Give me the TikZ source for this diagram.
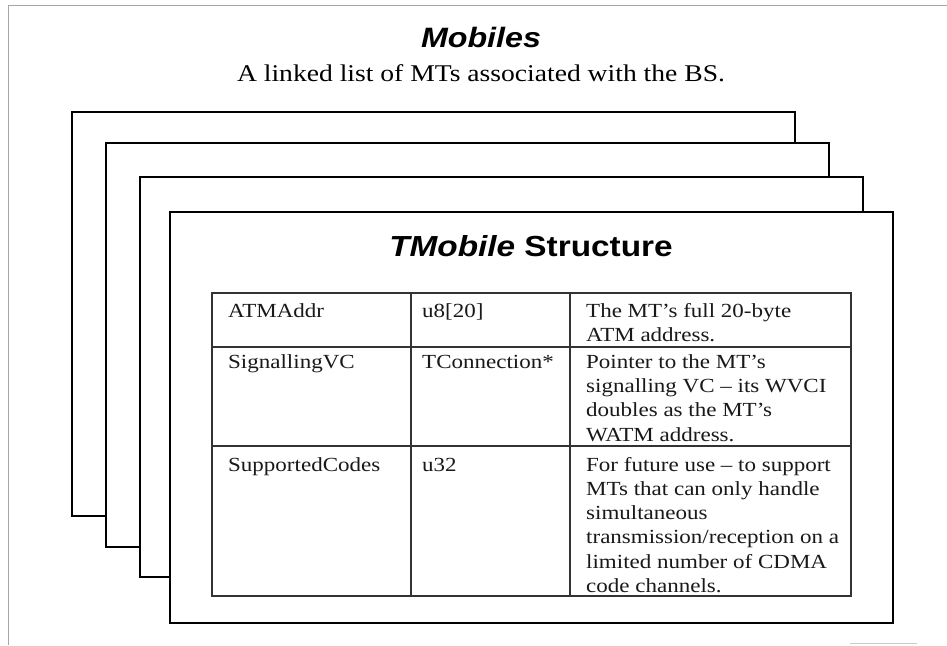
\documentclass[tikz,border=0pt]{standalone}
\usepackage{fontspec}
\setmainfont{Liberation Serif}
\newfontfamily\tabfont[FakeStretch=1.15,Ligatures=TeX]{Liberation Serif}
\newfontfamily\headfont[FakeStretch=1.15]{Liberation Sans}
\begin{document}
\begin{tikzpicture}[x=1pt,y=-1pt,
  frameline/.style={draw=black!35,line width=1pt},
  card/.style={draw=black,fill=white,line width=2pt},
  frontcard/.style={draw=black,fill=white,line width=1.4pt},
  tabline/.style={draw=black!80,line width=1.2pt},
  cell/.style={anchor=north west,inner sep=0pt,align=left,
    font=\tabfont\fontsize{20}{24.3}\selectfont,text=black!90},
  bigtitle/.style={anchor=base,inner sep=0pt,font=\headfont\fontsize{28}{32}\selectfont\bfseries\itshape},
  subtitle/.style={anchor=base,inner sep=0pt,font=\tabfont\fontsize{24}{28}\selectfont},
  cardtitle/.style={anchor=base,inner sep=0pt,font=\headfont\fontsize{29}{33}\selectfont\bfseries}]
\useasboundingbox (0,0) rectangle (947,645);
% outer frame (faint)
\coordinate (fTR) at (947,5);
\coordinate (fTL) at (8,5);
\coordinate (fBL) at (8,645);
\coordinate (fB1) at (850,643);
\coordinate (fB2) at (917,643);
\draw[frameline] (fTR) -- (fTL) -- (fBL);
\draw[frameline,draw=black!20] (fB1) -- (fB2);
% titles
\node[bigtitle] (mobiles) at (481,47) {Mobiles};
\node[subtitle] (sub) at (481,81) {A linked list of MTs associated with the BS.};
% stacked cards
\path[card] (72,112) rectangle (795,516);
\path[card] (106,143) rectangle (829,547);
\path[card] (140,177) rectangle (863,577);
\path[frontcard] (170,212) rectangle (893,623);
\node[cardtitle] (ctitle) at (531,256) {\itshape TMobile\/\upshape{} Structure};
% table grid
\draw[tabline] (212,293) rectangle (851,596);
\draw[tabline] (212,347) -- (851,347);
\draw[tabline] (212,446) -- (851,446);
\draw[tabline] (411,293) -- (411,596);
\draw[tabline] (570,293) -- (570,596);
% row 1
\node[cell] (r1a) at (228,299.8) {\strut ATMAddr};
\node[cell] (r1b) at (422,299.8) {\strut u8[20]};
\node[cell] (r1c) at (586,299.8) {\strut The MT’s full 20-byte\\ATM address.};
% row 2
\node[cell] (r2a) at (228,351) {\strut SignallingVC};
\node[cell] (r2b) at (422,351) {\strut TConnection*};
\node[cell] (r2c) at (586,351) {\strut Pointer to the MT’s\\signalling VC – its WVCI\\doubles as the MT’s\\WATM address.};
% row 3
\node[cell] (r3a) at (228,453.8) {\strut SupportedCodes};
\node[cell] (r3b) at (422,453.8) {\strut u32};
\node[cell] (r3c) at (586,453.8) {\strut For future use – to support\\MTs that can only handle\\simultaneous\\transmission/reception on a\\limited number of CDMA\\code channels.};
\end{tikzpicture}
\end{document}
